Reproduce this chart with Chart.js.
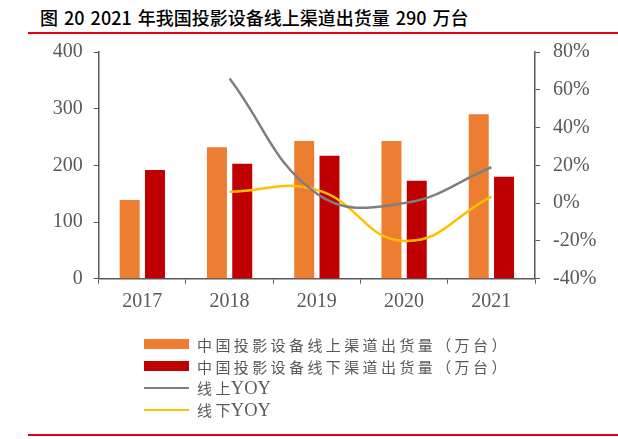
<!DOCTYPE html>
<html><head><meta charset="utf-8">
<script src="https://cdn.jsdelivr.net/npm/chart.js@4/dist/chart.umd.min.js"></script>
<style>
html,body{margin:0;padding:0;background:#fff;}
#wrap{position:relative;width:618px;height:439px;overflow:hidden;}
#title{position:absolute;left:40px;top:5px;font-family:"Noto Sans CJK SC",sans-serif;font-weight:500;font-size:18px;color:#000;white-space:nowrap;line-height:24px;word-spacing:2px;}
.rule{position:absolute;left:28px;right:0;height:2px;background:#E2001A;}
#c{position:absolute;left:0;top:0;}
#legend{position:absolute;left:144px;top:333px;font-family:"Liberation Serif","Noto Sans CJK SC",serif;font-size:15px;color:#595959;}
.row{height:22px;display:flex;align-items:center;white-space:nowrap;}
.sw{width:45px;margin-right:8px;flex:none;}
.cjk{letter-spacing:3.4px;}
.lat{font-size:18.5px;margin-left:-3px;}
</style></head>
<body><div id="wrap">
<div id="title">图 20 2021 年我国投影设备线上渠道出货量 290 万台</div>
<div class="rule" style="top:32px"></div>
<canvas id="c" width="618" height="439"></canvas>
<div id="legend"></div>
<div class="rule" style="top:434px"></div>
</div>
<script>
const categories = ['2017','2018','2019','2020','2021'];
const onlineShip = [139, 232, 243, 243, 290];
const offlineShip = [192, 203, 217, 173, 180];
const onlineYoY = [null, 66, 5, 0, 19];
const offlineYoY = [null, 6, 7, -20, 3.5];
const seriesNames = ['中国投影设备线上渠道出货量（万台）','中国投影设备线下渠道出货量（万台）','线上YOY','线下YOY'];
const leftTicks = [0,100,200,300,400];
const rightTicks = [-40,-20,0,20,40,60,80];

const colors = ['#ED7D31','#C00000','#7F7F7F','#FFC000'];
const axisColor = '#595959';
const tickFont = {family:'"Liberation Serif", serif', size:20};

new Chart(document.getElementById('c'), {
  type:'bar',
  data:{
    labels:categories,
    datasets:[
      {type:'line',label:seriesNames[2],data:onlineYoY,yAxisID:'y1',borderColor:colors[2],backgroundColor:colors[2],borderWidth:2.5,pointRadius:0,tension:0.42,order:1},
      {type:'line',label:seriesNames[3],data:offlineYoY,yAxisID:'y1',borderColor:colors[3],backgroundColor:colors[3],borderWidth:2.5,pointRadius:0,tension:0.45,order:2},
      {label:seriesNames[0],data:onlineShip,yAxisID:'y',backgroundColor:colors[0],categoryPercentage:0.58,barPercentage:0.79,order:3},
      {label:seriesNames[1],data:offlineShip,yAxisID:'y',backgroundColor:colors[1],categoryPercentage:0.58,barPercentage:0.79,order:4}
    ]
  },
  options:{
    responsive:false,animation:false,
    layout:{padding:{top:52,left:0,right:0,bottom:0}},
    plugins:{legend:{display:false},tooltip:{enabled:false}},
    scales:{
      x:{
        grid:{drawOnChartArea:false,offset:true,tickLength:5,color:axisColor,lineWidth:1},
        border:{color:axisColor,width:1.5},
        ticks:{color:axisColor,font:tickFont,padding:6},
        afterFit:s=>{s.height=439-278.7;}
      },
      y:{
        position:'left',min:0,max:400,
        afterBuildTicks:s=>{s.ticks=leftTicks.map(v=>({value:v}));},
        grid:{drawOnChartArea:false,tickLength:5,color:axisColor},
        border:{color:axisColor,width:1.5},
        ticks:{color:axisColor,font:tickFont,padding:11},
        afterFit:s=>{s.width=98.7;}
      },
      y1:{
        position:'right',min:-40,max:80,
        afterBuildTicks:s=>{s.ticks=rightTicks.map(v=>({value:v}));},
        grid:{drawOnChartArea:false,tickLength:5,color:axisColor},
        border:{color:axisColor,width:1.5},
        ticks:{color:axisColor,font:tickFont,padding:13,callback:v=>v+'%'},
        afterFit:s=>{s.width=618-535;}
      }
    }
  }
});

const lg = document.getElementById('legend');
seriesNames.forEach((n,i)=>{
  const r=document.createElement('div');r.className='row';
  const sw=document.createElement('span');sw.className='sw';
  sw.style.background=colors[i];
  sw.style.height = i<2 ? '10px' : '2.5px';
  r.appendChild(sw);
  const t=document.createElement('span');
  n.split(/(YOY)/).forEach(part=>{
    if(!part) return;
    const p=document.createElement('span');
    p.className = part==='YOY' ? 'lat' : 'cjk';
    p.textContent=part; t.appendChild(p);
  });
  r.appendChild(t);lg.appendChild(r);
});
</script>
</body></html>
